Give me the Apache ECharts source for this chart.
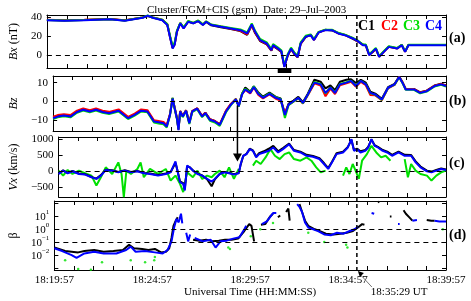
<!DOCTYPE html>
<html>
<head>
<meta charset="utf-8">
<script src="https://cdn.jsdelivr.net/npm/echarts@6/dist/echarts.min.js"></script>
<style>
  html, body { margin: 0; padding: 0; background: #fff; }
  #main { width: 471px; height: 301px; }
</style>
</head>
<body>
<div id="main"></div>
<script>
// times are seconds after 18:19:57 UT
const tickTimes = [0, 300, 600, 900, 1200];
const tickLabels = ['18:19:57', '18:24:57', '18:29:57', '18:34:57', '18:39:57'];
const eventTime = 932;          // 18:35:29 UT
const barTimes = [694, 735];    // black bar under panel (a)
const arrowTime = 563;          // black arrow from (b) to (c)
const arrowFrom = -2;           // Bz value where the arrow starts
const arrowTo = 300;            // Vx value of the arrow tip

// (a) Bx, nT
const bxT = [0,53,112,190,234,288,303,318,347,362,371,378,384,391,401,411,425,440,455,469,479,494,523,553,582,602,616,626,641,661,675,680,695,705,714,724,734,744,754,763,778,793,803,817,837,857,876,896,920,935,950,959,969,979,989,999,1013,1028,1053,1067,1077,1087,1121,1151,1200];
const bxC1 = [37.3,36.8,37.2,38.2,36.8,39.8,41.5,39.8,37.3,32.5,18.5,7.8,11.5,25.2,33.8,28.8,35.6,33.8,36.2,32.2,35.2,31.6,29.6,27.8,25.5,21.5,31.5,23.5,15,11.5,4.8,9.8,6.2,3.5,-11.8,-0.5,6.5,1.2,-2.2,12,19.2,21.5,16.3,24.2,26.8,26.2,23.3,21.5,17.4,14.5,11.5,10.2,0.5,3.2,6.7,-1.5,3.8,9.1,7.3,10.9,3.8,10.8,10.9,10.8,10.9];
const bxC2 = [37.5,37,37.4,38.3,37,40,41.6,40,37.5,32.8,18,7.5,11.3,25,34,28.6,35.8,34,36.4,32.4,35.6,32.2,30.3,28,25.8,22,31.8,24,15.5,11.8,5,10.2,6.6,3.8,-12,-0.3,6.8,1.5,-2,12.2,19.6,21.4,16.2,24.3,26.7,26.7,23.2,21.4,17.9,14.7,11,10.4,0.3,3.3,6.8,-1.6,3.6,8.9,7.2,10.7,3.7,10.7,10.8,10.7,10.8];
const bxC3 = [37.2,36.7,37.1,38.1,36.7,39.9,42,39.9,37.4,33,19.5,9.5,13.5,26,34.2,29.5,36.2,34.2,36.8,32.6,35.9,32.4,30.6,28.9,27.2,24,33.6,25.8,17.2,13.6,6.5,11.8,8,5.2,-11,1,8,3,-0.5,13.5,20.5,22,17,24.7,27,27,23.7,21.8,18.3,15.4,11.2,11.2,1,4.3,7.8,-1,4.3,9.5,7.6,11.1,4,11,11,11,11];
const bxC4 = [37,36.5,37,38,36.5,39.6,41.8,39.6,37,31.9,17.7,7,11,24.8,33.6,28.3,35.4,33.6,36,31.9,35.4,31.9,30,28.3,26.5,23,32.6,24.8,16,12.4,5.3,10.6,7,4.2,-12.4,0,7,1.8,-1.8,12.4,19.5,21.2,16,24,26.5,26.5,23,21.2,17.7,14.9,10.6,10.6,0,3.5,7,-1.8,3.5,8.8,7,10.6,3.5,10.6,10.6,10.6,10.6];

// (b) Bz, nT
const bzT = [0,14,33,53,73,92,112,131,151,171,200,229,249,269,288,308,322,337,347,357,365,371,378,383,388,396,406,416,425,440,455,465,479,494,509,528,543,558,567,577,587,602,613,626,641,661,680,695,708,719,734,749,763,778,798,817,832,847,861,876,896,910,925,940,955,969,984,1004,1023,1043,1057,1067,1077,1102,1121,1141,1165,1185,1200];
const bzC1 = [-8.5,-7.6,-7,-7.6,-5.2,-4,-5,-4,-5.2,-5.8,-4.5,-8.5,-6.8,-4.5,-5,-10.2,-10.6,-11,-12.8,-6.8,1.9,-3,-8.5,-14.5,-5,-7.6,-4.5,-11,-5,-3.5,-7.6,-5.8,-9.3,-10.2,-12,-5,-1.3,1.4,-2.2,4.2,7.5,5.2,8,5,2.6,4.8,2.5,1.6,-6.5,-1.2,0.6,2.5,-0.3,4.2,11.5,10.5,7,8.5,6,10.5,11.5,11.8,9.8,11.5,10,5.2,4.2,1.5,7.6,9.4,13.2,10.3,6.7,6.7,4.9,5.8,8.5,9.4,8.5];
const bzC2 = [-8,-7.1,-6.6,-7.1,-4.8,-3.6,-4.5,-3.6,-4.8,-5.4,-4.1,-8,-6.3,-4.1,-4.5,-9.8,-10.2,-10.7,-12.5,-6.5,1.8,-3.1,-8.5,-14.8,-5,-7.6,-4.6,-11.1,-5,-3.5,-7.6,-5.9,-9.3,-10.2,-12,-4.8,-1.2,1.3,-2.3,3.9,6.2,4.3,7.4,3.7,1.7,3.8,1.5,0.6,-6,-1.8,0,1.7,-1,3.4,9.6,8.5,2.8,6.8,4,8.6,9.6,10.4,7.8,10.4,8.6,3.5,3.3,0.7,7,8.8,13.1,10.2,6.6,6.6,4.8,5.7,8.4,9.3,8.4];
const bzC3 = [-9.2,-8.3,-7.7,-8.3,-5.9,-4.7,-5.6,-4.7,-5.9,-6.5,-5.2,-9.2,-7.4,-5.2,-5.6,-11,-11.5,-12,-13.6,-7.3,1.9,-3.6,-9,-14.6,-5.5,-8.2,-5,-11.8,-5.5,-4,-8.2,-6.4,-10.1,-11,-12.8,-5.6,-1.9,1.2,-2.7,4.2,6.8,4.9,8.1,4.4,2.3,4.3,2.3,1.4,-8.7,-1.9,0,1.8,-0.9,3.6,10.3,9.3,4.3,7.5,4.8,9.3,10.2,11,8.4,11,9.2,4.4,3.6,0.9,7.2,8.9,12.8,9.8,6.2,6.2,4.4,5.3,8,8.9,8];
const bzC4 = [-8.75,-7.9,-7.3,-7.9,-5.5,-4.3,-5.2,-4.3,-5.5,-6.1,-4.8,-8.75,-7,-4.8,-5.2,-10.5,-10.9,-11.4,-13.2,-7,1.6,-3.4,-8.75,-15,-5.2,-7.9,-4.8,-11.4,-5.2,-3.75,-7.9,-6.1,-9.6,-10.5,-12.3,-5.2,-1.6,1.1,-2.5,3.75,6.4,4.6,7.7,4.1,2,4.1,2,1.1,-7,-1.6,0.2,2,-0.7,3.75,10,9.1,4.6,7.3,4.6,9.1,10,10.9,8.2,10.9,9.1,4.6,3.75,1.1,7.3,9.1,13,10,6.4,6.4,4.6,5.5,8.2,9.1,8.2];

// (c) Vx, km/s
const vxT = [0,14,28,43,63,82,102,117,131,146,166,185,205,224,244,264,283,308,332,347,362,368,376,386,391,398,406,416,430,445,460,474,484,499,514,528,543,558,564,572,582,592,602,612,621,636,651,665,680,695,714,729,749,768,788,808,822,835,847,861,881,896,907,915,925,935,950,959,969,979,989,1004,1018,1033,1053,1072,1092,1106,1121,1141,1155,1170,1185,1200];
const vxC1 = [-80,20,-60,0,-80,-100,-190,-240,-130,40,20,-30,25,-30,0,-60,-80,-130,-80,-30,250,20,-330,-380,-560,150,120,20,-80,-140,-260,-480,-260,-90,-30,-60,-100,-60,200,470,540,700,650,450,560,620,700,790,620,720,860,660,610,510,470,400,250,90,290,560,610,760,980,660,700,620,660,760,990,810,760,660,610,510,610,510,500,300,140,10,-20,30,80,50];
const vxC4 = [-94,10,-73,-10,-94,-115,-198,-250,-146,31,10,-42,10,-42,-10,-73,-94,-146,-94,-42,302,10,-354,-406,-615,167,115,10,-94,-146,-250,-333,-250,-94,-42,-73,-115,-73,219,479,531,688,635,427,531,583,635,740,583,688,844,635,583,479,448,375,219,63,271,531,583,740,1000,635,688,583,635,740,1000,792,740,635,583,479,583,479,479,271,115,-10,-42,10,63,31];
const vxC3T = [0,14,28,43,63,82,102,117,131,146,166,185,195,202,210,224,244,254,264,283,308,332,347,362,376,386,398,416,430,445,460,474,484,499,514,528,543,558,567,602,612,626,641,656,670,685,700,714,729,749,768,783,798,812,827,837,881,891,901,911,920,930,940,955,969,984,999,1013,1028,1038,1072,1082,1092,1106,1121,1141,1155,1170,1185,1200];
const vxC3 = [10,-146,31,-94,10,-73,-146,-458,-198,115,-94,271,-94,-823,10,-94,63,271,-198,63,-94,63,-302,-146,-406,-667,-42,-198,10,-250,-146,-198,-94,10,-198,115,-250,63,null,167,323,219,427,688,479,375,531,583,375,323,427,323,115,-42,10,null,-146,115,-94,219,10,-250,323,531,792,583,427,479,323,null,375,-198,219,10,-94,-146,-302,-146,-42,10];

// (d) plasma beta
const beC1T = [0,14,33,53,73,92,122,151,181,210,229,244,269,288,308,327,342,352,359,365,372,378,385,425,445,465,484,504,523,543,563,582,597,604,612,620,633,646,661,670,675,685,692,700,710,717,721,730,751,759,768,778,798,812,832,856,876,896,915,930,943,950,960,992,996,1000,1028,1033,1040,1070,1077,1087,1097,1105,1141,1155,1165];
const beC1 = [0.037,0.029,0.020,0.0178,0.0158,0.020,0.024,0.0178,0.020,0.024,0.060,0.033,0.029,0.024,0.029,0.0158,0.0178,0.033,0.20,1.73,4.3,8.0,null,0.15,0.126,0.15,0.111,0.126,0.15,0.15,0.18,0.69,2.35,1.73,0.111,null,2.08,2.35,9.0,14.7,null,8.0,10.8,null,20,36.7,4.3,null,81,20,4.3,1.73,0.94,0.69,0.43,0.38,0.43,0.51,0.69,1.28,2.35,2.08,null,125,110,null,9.0,9.0,null,27,14.7,8.0,4.3,null,4.9,4.3,4.3];
const beC4T = [0,24,53,68,92,122,151,190,220,234,249,278,308,332,347,359,367,374,381,388,392,400,404,410,416,423,430,455,479,494,509,528,548,567,582,588,600,636,651,670,680,690,744,751,759,768,778,793,808,827,847,866,886,905,920,930,940,972,980,990,1053,1058,1070,1097,1111,1150,1165,1180,1200];
const beC4 = [0.033,0.020,0.0096,0.0059,0.0131,0.0178,0.0131,0.0131,0.024,0.044,0.0178,0.020,0.0158,0.0131,0.024,0.111,1.28,5.9,3.2,14.7,2.65,null,0.51,0.111,0.38,null,0.20,0.111,0.15,0.037,0.111,0.126,0.18,0.23,0.94,1.73,null,2.35,3.8,16.6,16.6,null,81,50,20,3.2,1.28,0.94,0.69,0.38,0.33,0.51,0.43,0.69,0.94,1.44,null,16.6,14.7,null,2.35,2.35,null,4.3,4.9,null,4.3,3.8,3.8];
const beC3T = [33,73,112,146,234,278,306,308,533,538,602,631,670,778,827,894,898,1190];
const beC3 = [0.0039,0.00084,0.00074,0.0028,0.0039,0.0028,0.0039,0.0071,0.037,0.029,0.28,0.94,2.8,0.51,0.098,0.060,0.037,0.94];

const FONT = 'Liberation Serif';
const colors = { C1: '#000000', C2: '#ff0000', C3: '#00e000', C4: '#0000ff' };

const grids = [
  { left: 38, right: 25, top: 15, height: 53 },
  { left: 38, right: 25, top: 76, height: 55 },
  { left: 38, right: 25, top: 137, height: 60 },
  { left: 38, right: 25, top: 201, height: 69 }
];

const pairs = (ts, vs) => ts.map((t, i) => [t, vs[i] == null ? '-' : vs[i]]);
const minus = v => String(v).replace('-', '\u2212');

function xAxes(i) {
  const base = {
    type: 'value', gridIndex: i, min: 0, max: 1200, interval: 60,
    axisLine: { onZero: false, lineStyle: { color: '#000', width: 1 } },
    axisTick: { inside: true, length: 4, lineStyle: { color: '#000' } },
    splitLine: { show: false }
  };
  const bottom = Object.assign({}, base, { position: 'bottom', axisLabel: { show: false } });
  if (i === 3) {
    bottom.axisLabel = {
      interval: 0, fontFamily: FONT, fontSize: 11, color: '#000', margin: 5,
      formatter: v => { const k = tickTimes.indexOf(v); return k < 0 ? '' : tickLabels[k]; }
    };
    bottom.name = 'Universal Time (HH:MM:SS)';
    bottom.nameLocation = 'middle';
    bottom.nameGap = 16;
    bottom.nameTextStyle = { fontFamily: FONT, fontSize: 11, color: '#000' };
  }
  const top = Object.assign({}, base, { position: 'top', axisLabel: { show: false } });
  return [bottom, top];
}

function yAxes(i, cfg) {
  const base = {
    type: cfg.type || 'value', gridIndex: i, min: cfg.min, max: cfg.max,
    axisLine: { onZero: false, lineStyle: { color: '#000', width: 1 } },
    axisTick: { inside: true, length: 4, lineStyle: { color: '#000' } },
    splitLine: { show: false }
  };
  if (cfg.ticks) base.axisTick.customValues = cfg.ticks;
  const left = Object.assign({}, base, {
    position: 'left',
    name: cfg.name, nameLocation: 'middle', nameGap: cfg.nameGap,
    nameTextStyle: {
      fontFamily: FONT, fontSize: 12, color: '#000',
      rich: { i: { fontFamily: FONT, fontSize: 12, fontStyle: 'italic', color: '#000' } }
    },
    axisLabel: Object.assign({
      fontFamily: FONT, fontSize: 11, color: '#000', margin: 5, formatter: minus
    }, cfg.label || {})
  });
  if (cfg.ticks) left.axisLabel.customValues = cfg.ticks;
  const right = Object.assign({}, base, { position: 'right', axisLabel: { show: false } });
  return [left, right];
}

const logLabel = {
  formatter: v => {
    const p = Math.round(Math.log10(v));
    if (p < -2 || p > 1) return '';
    return '{b|10}{s|' + minus(p) + '}';
  },
  rich: {
    b: { fontFamily: FONT, fontSize: 11, color: '#000', lineHeight: 14, verticalAlign: 'bottom' },
    s: { fontFamily: FONT, fontSize: 7, color: '#000', lineHeight: 14, verticalAlign: 'top' }
  }
};

const yCfg = [
  { min: -13.5, max: 42.5, ticks: [0, 20, 40], name: '{i|Bx} (nT)', nameGap: 20 },
  { min: -15.5, max: 13.5, ticks: [-10, 0, 10], name: '{i|Bz}', nameGap: 25 },
  { min: -820, max: 1070, ticks: [-500, 0, 500, 1000], name: '{i|Vx} (km/s)', nameGap: 28 },
  { type: 'log', min: 0.0007, max: 140, name: 'β', nameGap: 21, label: logLabel }
];

const dash = (vals) => ({
  silent: true, symbol: 'none', label: { show: false },
  lineStyle: { type: [5, 4], color: '#000', width: 1.2 },
  data: vals.map(v => ({ yAxis: v }))
});

function line(panel, name, ts, vs, extra) {
  return Object.assign({
    type: 'line', name: name, xAxisIndex: panel * 2, yAxisIndex: panel * 2,
    data: pairs(ts, vs), showSymbol: false, connectNulls: false,
    lineStyle: { width: 2, color: colors[name] }, itemStyle: { color: colors[name] }
  }, extra || {});
}

const xAxis = [], yAxis = [];
for (let i = 0; i < 4; i++) {
  xAxis.push(...xAxes(i));
  yAxis.push(...yAxes(i, yCfg[i]));
}

const series = [
  line(0, 'C1', bxT, bxC1, { markLine: dash([0]) }),
  line(0, 'C2', bxT, bxC2),
  line(0, 'C3', bxT, bxC3),
  line(0, 'C4', bxT, bxC4),
  line(1, 'C1', bzT, bzC1, { markLine: dash([0]) }),
  line(1, 'C2', bzT, bzC2),
  line(1, 'C3', bzT, bzC3),
  line(1, 'C4', bzT, bzC4),
  line(2, 'C3', vxC3T, vxC3, { markLine: dash([0]) }),
  line(2, 'C1', vxT, vxC1),
  line(2, 'C4', vxT, vxC4),
  line(3, 'C1', beC1T, beC1, { markLine: dash([1, 0.1]) }),
  line(3, 'C4', beC4T, beC4),
  {
    type: 'scatter', name: 'C3', xAxisIndex: 6, yAxisIndex: 6,
    data: pairs(beC3T, beC3), symbolSize: 2.5, itemStyle: { color: colors.C3 }
  }
];

const chart = echarts.init(document.getElementById('main'));
chart.setOption({
  animation: false,
  backgroundColor: '#fff',
  title: {
    text: 'Cluster/FGM+CIS (gsm)  Date: 29\u2013Jul\u20132003',
    left: 142, top: 0,
    textStyle: { fontFamily: FONT, fontSize: 11, fontWeight: 'normal', color: '#000' }
  },
  grid: grids,
  xAxis: xAxis,
  yAxis: yAxis,
  series: series
});

// annotations placed through the axes
const xe = chart.convertToPixel({ xAxisIndex: 0 }, eventTime);
const xa = chart.convertToPixel({ xAxisIndex: 2 }, arrowTime);
const xb0 = chart.convertToPixel({ xAxisIndex: 0 }, barTimes[0]);
const xb1 = chart.convertToPixel({ xAxisIndex: 0 }, barTimes[1]);
const ya0 = chart.convertToPixel({ yAxisIndex: 2 }, arrowFrom);
const ya1 = chart.convertToPixel({ yAxisIndex: 4 }, arrowTo);
const top0 = grids[0].top, bot0 = grids[0].top + grids[0].height;
const bot3 = grids[3].top + grids[3].height;

const legendItems = [['C1', 358], ['C2', 381], ['C3', 403], ['C4', 425]];
const panelLabels = [['(a)', 38], ['(b)', 101], ['(c)', 163], ['(d)', 235]];
const boldText = { fontFamily: FONT, fontSize: 14, fontWeight: 'bold' };

chart.setOption({
  graphic: [
    { type: 'line', shape: { x1: xe, y1: top0, x2: xe, y2: bot3 + 3 },
      style: { stroke: '#000', lineWidth: 1.5, lineDash: [4, 3] }, z: 10 },
    { type: 'rect', shape: { x: xb0, y: bot0, width: xb1 - xb0, height: 5 },
      style: { fill: '#000' }, z: 10 },
    { type: 'line', shape: { x1: xa, y1: ya0, x2: xa, y2: ya1 - 7 },
      style: { stroke: '#000', lineWidth: 1.5 }, z: 10 },
    { type: 'polygon', shape: { points: [[xa - 4.5, ya1 - 8], [xa + 4.5, ya1 - 8], [xa, ya1]] },
      style: { fill: '#000' }, z: 10 },
    { type: 'line', shape: { x1: xe + 2, y1: bot3 + 3, x2: xe + 15, y2: bot3 + 17 },
      style: { stroke: '#777', lineWidth: 1 }, z: 10 },
    { type: 'polygon', shape: { points: [[xe + 1, bot3 + 1], [xe + 7, bot3 + 3], [xe + 3, bot3 + 7]] },
      style: { fill: '#000' }, z: 10 },
    { type: 'text', x: xe + 14, y: bot3 + 17,
      style: { text: '18:35:29 UT', fontFamily: FONT, fontSize: 11, fill: '#000' } },
    ...legendItems.map(([k, x]) => ({
      type: 'text', x: x, y: 19, z: 10,
      style: Object.assign({ text: k, fill: colors[k] }, boldText)
    })),
    ...panelLabels.map(([t, y]) => ({
      type: 'text', x: 449, y: y, z: 10,
      style: Object.assign({ text: t, fill: '#000', verticalAlign: 'middle' }, boldText)
    }))
  ]
});
</script>
</body>
</html>
